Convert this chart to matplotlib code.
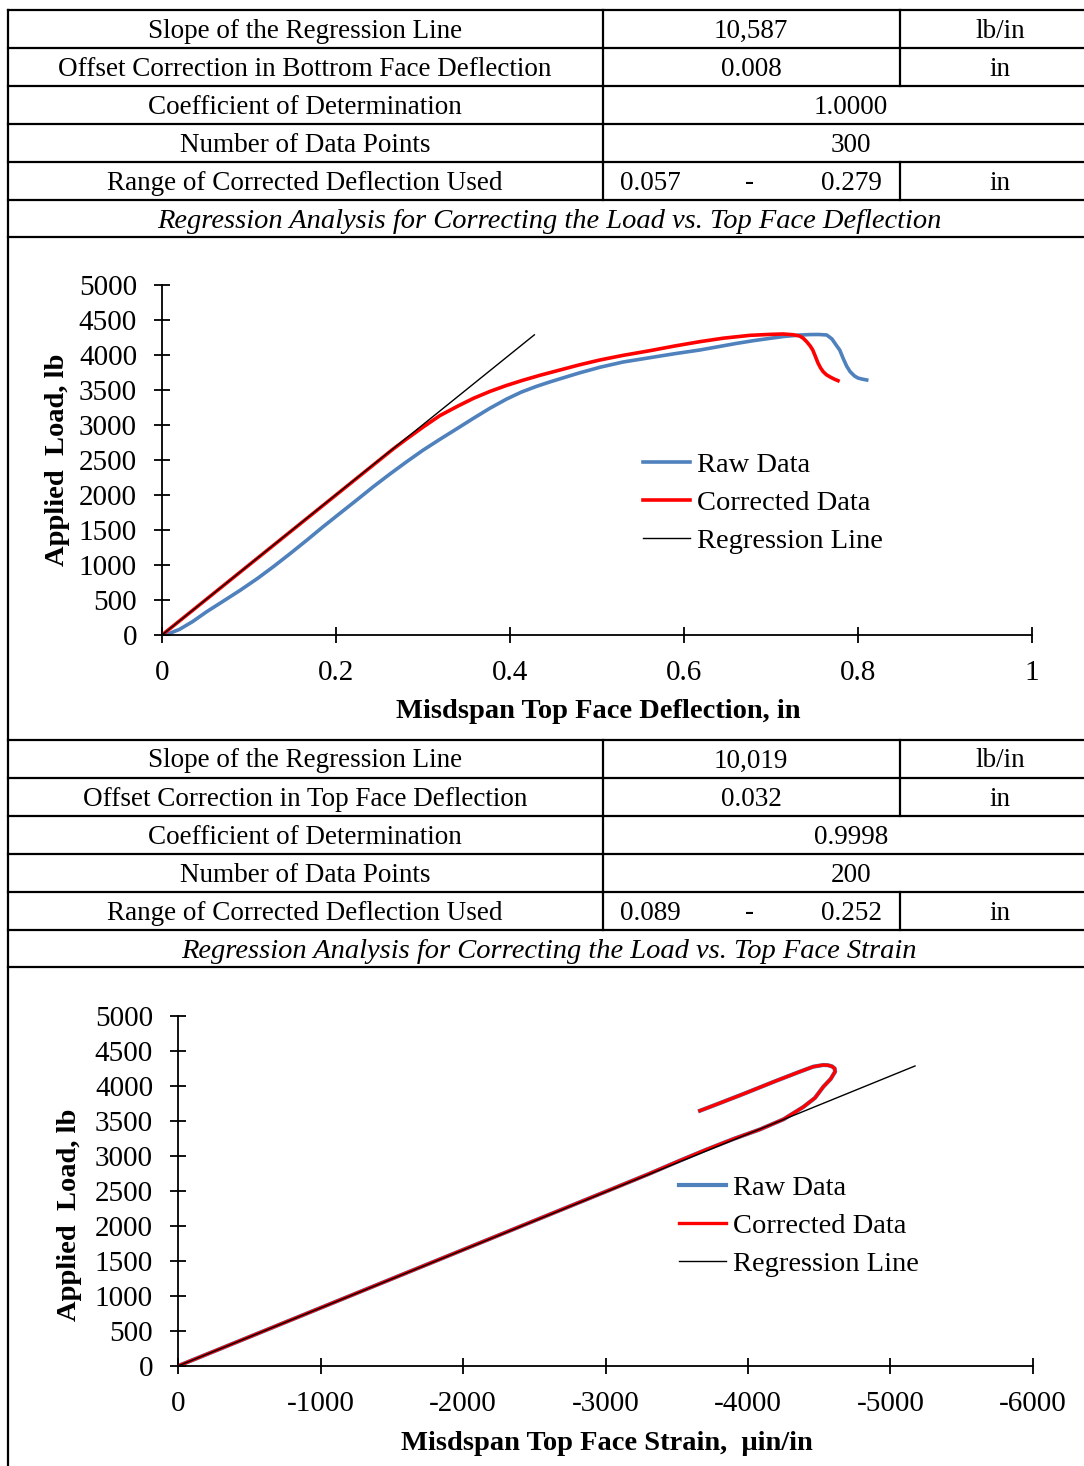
import matplotlib
matplotlib.use("Agg")
import matplotlib.pyplot as plt
from matplotlib.lines import Line2D

plt.rcParams['font.family'] = ['Liberation Serif', 'DejaVu Serif']
plt.rcParams['axes.unicode_minus'] = False

W, H, DPI = 1084, 1466, 100

# --- load vs. top face deflection ---
defl_raw = [0, 0.01, 0.02, 0.035, 0.0514, 0.07, 0.09, 0.11, 0.128, 0.147,
            0.166, 0.185, 0.2046, 0.224, 0.243, 0.262, 0.2813, 0.30, 0.32,
            0.34, 0.358, 0.377, 0.396, 0.413, 0.43, 0.445, 0.4575, 0.48,
            0.5034, 0.53, 0.56, 0.59, 0.618, 0.64, 0.66, 0.68, 0.70, 0.715,
            0.733, 0.745, 0.755, 0.764, 0.770, 0.775, 0.779, 0.783, 0.787,
            0.791, 0.796, 0.80, 0.805, 0.81]
load_raw = [0, 30, 80, 190, 333, 480, 640, 810, 976, 1160,
            1350, 1545, 1739, 1930, 2120, 2300, 2476, 2640, 2800,
            2955, 3096, 3240, 3370, 3470, 3550, 3612, 3660, 3745,
            3825, 3900, 3960, 4020, 4071, 4120, 4165, 4205, 4240, 4265,
            4285, 4292, 4293, 4286, 4230, 4140, 4071, 3950, 3840,
            3761, 3700, 3671, 3655, 3643]
defl_corr = [0, 0.05, 0.1, 0.15, 0.2, 0.24, 0.265, 0.28, 0.30, 0.3195, 0.34,
             0.358, 0.377, 0.396, 0.415, 0.435, 0.4575, 0.48, 0.5034, 0.53,
             0.56, 0.59, 0.618, 0.645, 0.676, 0.70, 0.714, 0.725, 0.733,
             0.737, 0.741, 0.745, 0.748, 0.751, 0.754, 0.757, 0.760, 0.764,
             0.768, 0.772, 0.777]
load_corr = [0, 500, 1000, 1500, 2000, 2400, 2650, 2790, 2970, 3135, 3270,
             3381, 3480, 3565, 3640, 3712, 3786, 3860, 3929, 3995,
             4060, 4130, 4190, 4240, 4281, 4295, 4300, 4290, 4271,
             4240, 4190, 4130, 4071, 3980, 3886, 3815, 3761, 3715,
             3686, 3660, 3633]
defl_slope = 10019          # lb/in
defl_reg_x = [0, 0.428]

# --- load vs. top face strain ---
strain = [0, -500, -1000, -1500, -2000, -2500, -3000, -3300, -3523, -3700,
          -3900, -4084, -4250, -4388, -4470, -4529, -4580, -4611, -4608,
          -4590, -4560, -4528, -4458, -4364, -4200, -3967, -3804, -3663]
strain_load = [0, 415, 830, 1245, 1660, 2075, 2490, 2740, 2935, 3085,
               3245, 3380, 3525, 3700, 3830, 3990, 4100, 4204, 4250,
               4280, 4297, 4300, 4276, 4205, 4076, 3886, 3757, 3647]
strain_reg_x = [0, -5172]
strain_reg_y = [0, 4286]

# --- tables ---
table_top = [
    ("Slope of the Regression Line", "10,587", "lb/in"),
    ("Offset Correction in Bottrom Face Deflection", "0.008", "in"),
    ("Coefficient of Determination", "1.0000", None),
    ("Number of Data Points", "300", None),
    ("Range of Corrected Deflection Used", ("0.057", "0.279"), "in"),
]
table_mid = [
    ("Slope of the Regression Line", "10,019", "lb/in"),
    ("Offset Correction in Top Face Deflection", "0.032", "in"),
    ("Coefficient of Determination", "0.9998", None),
    ("Number of Data Points", "200", None),
    ("Range of Corrected Deflection Used", ("0.089", "0.252"), "in"),
]
title_1 = "Regression Analysis for Correcting the Load vs. Top Face Deflection"
title_2 = "Regression Analysis for Correcting the Load vs. Top Face Strain"

BLUE = "#4F81BD"
RED = "#FF0000"
FS_TAB = 19.5
FS_TITLE = 20.5
FS_TICK = 21
FS_LABEL = 20.5
FS_LEG = 20.5


def fx(x):
    return x / W


def fy(y):
    return 1 - y / H


fig = plt.figure(figsize=(W / DPI, H / DPI), dpi=DPI)


def hline(y, x0=8, x1=1084, lw=1.6):
    fig.add_artist(Line2D([fx(x0), fx(x1)], [fy(y), fy(y)], color="black", lw=lw))


def vline(x, y0, y1, lw=1.6):
    fig.add_artist(Line2D([fx(x), fx(x)], [fy(y0), fy(y1)], color="black", lw=lw))


def cell(x, y, s, ha="center", **kw):
    fig.text(fx(x), fy(y), s, ha=ha, va="center", fontsize=FS_TAB, **kw)


def draw_table(rows, title, top):
    rh = 38
    for i, (name, val, unit) in enumerate(rows):
        y0 = top + i * rh
        yc = y0 + rh / 2 + 2
        hline(y0)
        vline(603, y0, y0 + rh)
        cell(305, yc, name)
        if unit is None:
            cell(851, yc, val)
            continue
        vline(900, y0, y0 + rh)
        if isinstance(val, tuple):
            cell(620, yc, val[0], ha="left")
            cell(750, yc, "-")
            cell(882, yc, val[1], ha="right")
        else:
            cell(751, yc, val)
        cell(1000, yc, unit)
    y0 = top + len(rows) * rh
    hline(y0)
    fig.text(fx(549), fy(y0 + 21), title, ha="center", va="center",
             fontsize=FS_TITLE, style="italic")
    hline(y0 + 37)


draw_table(table_top, title_1, 10)
draw_table(table_mid, title_2, 740)
vline(8, 10, H)


def style_axes(ax):
    for s in ("top", "right"):
        ax.spines[s].set_visible(False)
    for s in ("left", "bottom"):
        ax.spines[s].set_linewidth(1.3)
    ax.tick_params(direction="inout", length=12, width=1.3, labelsize=FS_TICK)
    ax.tick_params(axis="x", pad=12)
    ax.tick_params(axis="y", pad=12)
    ax.set_ylim(0, 5000)
    ax.set_yticks(range(0, 5001, 500))


def add_legend(ax, x, y):
    ax.legend(loc="upper left", bbox_to_anchor=(fx(x), fy(y)),
              bbox_transform=fig.transFigure, frameon=False, fontsize=FS_LEG,
              handlelength=1.65, handletextpad=0.25, labelspacing=0.42,
              borderaxespad=0, borderpad=0)


# load vs deflection
ax1 = fig.add_axes([fx(162), fy(635), (1032 - 162) / W, 350 / H])
ax1.plot(defl_raw, load_raw, color=BLUE, lw=2.6, label="Raw Data")
ax1.plot(defl_corr, load_corr, color=RED, lw=2.6, label="Corrected Data")
ax1.plot(defl_reg_x, [defl_slope * v for v in defl_reg_x], color="black",
         lw=1.0, label="Regression Line")
ax1.set_xlim(0, 1)
ax1.set_xticks([0, 0.2, 0.4, 0.6, 0.8, 1])
ax1.set_xticklabels(["0", "0.2", "0.4", "0.6", "0.8", "1"])
style_axes(ax1)
add_legend(ax1, 643, 452)
fig.text(fx(598), fy(712), "Misdspan Top Face Deflection, in", ha="center",
         va="center", fontsize=FS_LABEL, fontweight="bold")
fig.text(fx(58), fy(460), "Applied  Load, lb", ha="center", va="center",
         fontsize=FS_LABEL, fontweight="bold", rotation=90)

# load vs strain
ax2 = fig.add_axes([fx(178), fy(1366), (1033 - 178) / W, 350 / H])
ax2.plot(strain, strain_load, color=BLUE, lw=3.0, label="Raw Data")
ax2.plot(strain, strain_load, color=RED, lw=2.4, label="Corrected Data")
ax2.plot(strain_reg_x, strain_reg_y, color="black", lw=1.0, label="Regression Line")
ax2.set_xlim(0, -6000)
ax2.set_xticks(range(0, -6001, -1000))
style_axes(ax2)
add_legend(ax2, 679, 1175)
fig.text(fx(607), fy(1443), "Misdspan Top Face Strain,  \u03bcin/in", ha="center",
         va="center", fontsize=FS_LABEL, fontweight="bold")
fig.text(fx(70), fy(1215), "Applied  Load, lb", ha="center", va="center",
         fontsize=FS_LABEL, fontweight="bold", rotation=90)

fig.savefig("out.png", dpi=DPI)
